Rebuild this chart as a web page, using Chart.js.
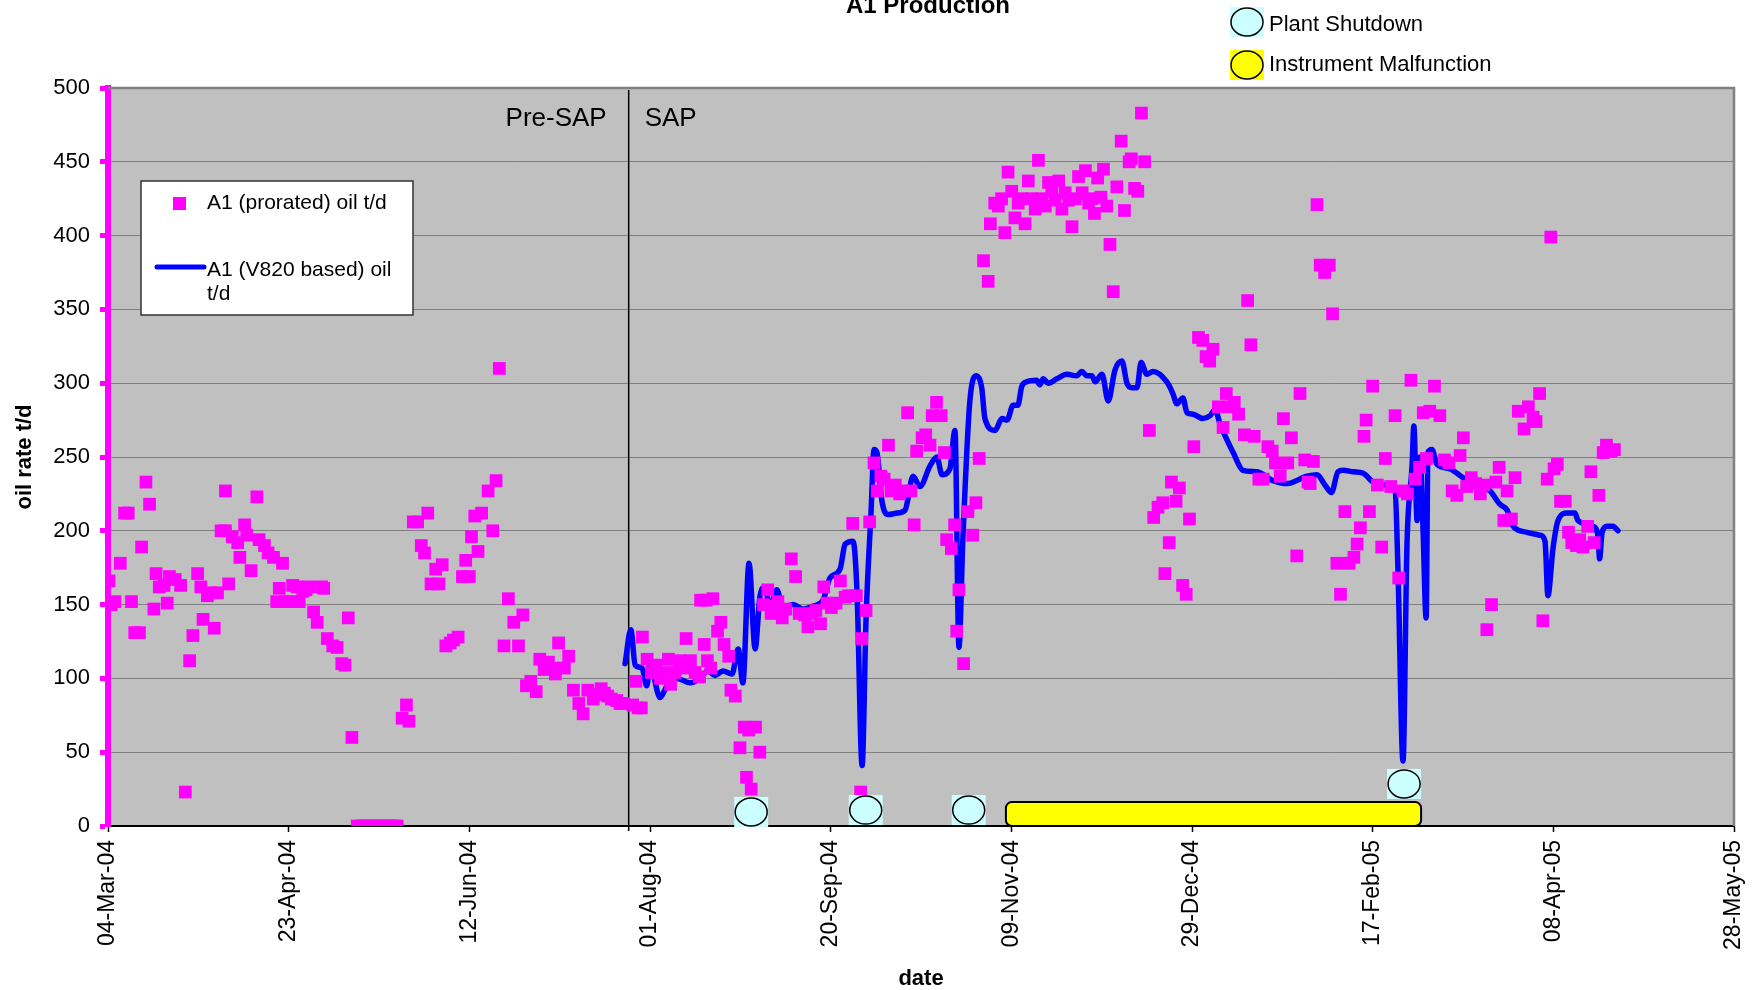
<!DOCTYPE html>
<html>
<head>
<meta charset="utf-8">
<title>A1 Production</title>
<script src="https://cdn.jsdelivr.net/npm/chart.js@4.4.1/dist/chart.umd.min.js"></script>
<style>
  body { margin: 0; background: #fff; }
  canvas { display: block; }
</style>
</head>
<body>
<canvas id="prodChart" width="1754" height="990"></canvas>
<script>
// x values are days after 04-Mar-04
var tickLabels = ["04-Mar-04", "23-Apr-04", "12-Jun-04", "01-Aug-04", "20-Sep-04",
  "09-Nov-04", "29-Dec-04", "17-Feb-05", "08-Apr-05", "28-May-05"];

var proratedDays = [
  0.3, 0.9, 1.9, 3.4, 4.6, 5.6, 6.5, 7.4, 8.7, 9.3, 10.5, 11.5, 12.7, 13.3, 14.2, 15.5, 16.4, 17, 18.6, 20.1,
  21.4, 22.6, 23.5, 24.8, 25.7, 26.3, 27.5, 28.5, 29.4, 30.3, 31.3, 32.5, 32.5, 33.4, 34.4, 35.9, 36.5, 37.8, 38.4, 39.6,
  41.2, 41.8, 43.3, 44.3, 45.8, 46.7, 48.3, 47.4, 49.2, 50.4, 51.1, 52.3, 52.9, 53.9, 54.8, 55.7, 56.9, 57.9, 59.1, 59.7,
  60.7, 62.2, 63.4, 64.7, 65.6, 66.5, 67.5, 69, 70, 71, 72, 73, 74, 75, 76, 77, 78, 79, 80,
  81.4, 82.6, 83.3, 84.5, 85.7, 86.7, 87.6, 88.5, 89.4, 90.7, 91.6, 92.5, 93.5, 94.7, 95.6, 96.9, 98.1, 99, 100, 100.6,
  101.5, 102.4, 103.4, 105.2, 106.5, 107.4, 108.3, 109.6, 110.8, 112.3, 113.6, 114.8, 115.8, 117, 118.5, 119.5, 120.7, 121.9, 122.9, 123.8,
  124.7, 126.3, 127.5, 128.8, 130.3, 131.5, 132.8, 134.3, 135.3, 136.5, 137.4, 138.3, 139.3, 140.8, 141.7, 142.7,
  145.2, 146.1, 146.7, 147.6, 147.9, 149.2, 150.4, 151.7, 152.9, 153.8, 155.1, 155.7, 156.9, 158.2, 159.4, 160, 161.2, 162.5, 163.7, 164,
  165, 165.6, 165.9, 166.8, 167.4, 168.7, 169.6, 170.5, 171.8, 172.4, 173.6, 174.9, 176.1, 176.7, 177.3, 178, 179.2, 180.4,
  181.4, 182.6, 183.5, 184.5, 185.4, 186.6, 187.6, 189.1, 190.3, 191.3, 192.8, 193.7, 194.7, 195.9, 197.2, 198.1, 199, 200.2,
  201.5, 202.7, 204, 204.9, 206.1, 207.1, 208.3, 208.6, 209.8, 210.8, 212, 212.9, 213.9, 214.8, 216, 216.7, 217.9, 219.1, 220.1,
  221.3, 222.2, 223.1, 223.8, 225.3, 226.3, 227.5, 228.1, 229.3, 230.6, 231.5, 232.1, 233.4, 234.3, 234.9, 235.5, 236.8, 238, 239.3, 240.2,
  241.1, 242.3, 243.6, 244.2, 245.4, 246.4, 247.3, 248.2, 249.1, 250.1, 251, 251.9, 252.9, 253.8, 254.7, 255.6, 256.6, 257.5, 258.4, 259.4,
  260.3, 261.2, 262.1, 263.1, 264, 264.9, 265.9, 266.8, 267.7, 268.6, 269.6, 270.5, 271.4, 272.4, 273, 273.9, 274.8, 275.5, 276.4, 277.3,
  278.2, 279.2, 280.4, 281.3, 282.6, 283.2, 284.1, 285, 286, 286.9, 288.2, 289.4, 290.6, 291.9, 292.5, 293.7, 294.3, 295.6, 296.5, 297.4,
  298.4, 299.3, 300.5, 301.8, 303, 303.9, 304.9, 305.8, 307.3, 308.6, 309.5, 310.4, 311.7, 312.9, 314.5, 315.4, 316.3, 317.2, 318.5, 319.7,
  321, 322.2, 323.1, 324.4, 325.3, 326.5, 327.5, 329, 329.9, 331.2, 332.1, 332.7, 333.6, 334.6, 335.5, 336.7, 338, 338.9, 340.1, 341.1,
  342.3, 343.5, 344.8, 345.7, 346.6, 347.6, 348.2, 349.1, 350, 351.3, 352.5, 353.5, 355, 356.2, 357.2, 358.4, 359.6, 360.6, 361.8, 363,
  364, 364.9, 365.8, 367.1, 368.6, 369.9, 371.1, 372, 373.3, 374.2, 375.1, 376, 377.3, 378.5, 379.8, 380.7, 381.6, 382.9, 384.1, 385,
  386.3, 387.2, 388.4, 389.4, 390.3, 391.9, 393.1, 394.4, 395.2, 396.2, 397.1, 398.3, 399.3, 400.2, 401.1, 402, 403.3, 404.2, 405.1, 406.4,
  407.3, 408.2, 409.5, 410.4, 411.3, 412.6, 413.8, 414.7, 416, 416.9
];
var proratedRate = [
  166, 150, 152, 178, 212, 212, 152, 131, 131, 189, 233, 218, 147, 171, 162, 163, 151, 169, 167, 163,
  23, 112, 129, 171, 162, 140, 156, 158, 134, 158, 200, 200, 227, 164, 196, 192, 182, 204, 197, 173,
  223, 194, 190, 185, 182, 152, 178, 161, 152, 152, 163, 162, 152, 159, 160, 162, 145, 138, 162, 161,
  127, 122, 121, 110, 109, 141, 60, 0, 0, 0, 0, 0, 0, 0, 0, 0, 0, 0, 0,
  73, 82, 71, 206, 206, 190, 185, 212, 164, 174, 164, 177, 122, 124, 126, 128, 169, 180, 169, 196,
  210, 186, 212, 227, 200, 234, 310, 122, 154, 138, 122, 143, 95, 98, 91, 113, 106, 111, 107, 103,
  124, 107, 115, 92, 83, 76, 92, 86, 89, 93, 90, 88, 86, 85, 83, 83,
  82, 98, 80, 80, 128, 113, 104, 109, 100, 104, 113, 96, 104, 112, 107, 127, 112, 104, 101, 153,
  123, 153, 112, 107, 154, 132, 138, 123, 115, 92, 88, 53, 67, 33, 65, 25, 67, 50,
  150, 160, 144, 149, 152, 141, 147, 181, 169, 144, 143, 135, 144, 146, 137, 162, 151, 148,
  151, 166, 155, 156, 205, 156, 23, 127, 146, 206, 246, 227, 237, 235, 258, 227, 231, 225, 227,
  280, 227, 204, 254, 263, 265, 258, 278, 287, 278, 253, 194, 188, 204, 132, 160, 110, 213, 197, 219,
  249, 383, 369, 408, 422, 420, 425, 402, 443, 430, 412, 422, 425, 408, 437, 425, 418, 451, 425, 420,
  436, 430, 424, 437, 418, 429, 424, 406, 425, 440, 429, 444, 422, 425, 415, 439, 426, 445, 420, 394,
  362, 433, 464, 417, 450, 452, 432, 430, 483, 450, 268, 209, 216, 219, 171, 192, 233, 220, 229, 163,
  157, 208, 257, 331, 329, 318, 315, 323, 284, 270, 293, 284, 287, 279, 265, 356, 326, 264, 235, 235,
  257, 254, 246, 237, 276, 246, 263, 183, 293, 248, 233, 232, 247, 421, 380, 375, 380, 347, 178, 157,
  213, 178, 182, 191, 202, 264, 275, 213, 298, 231, 189, 249, 230, 278, 168, 227, 225, 302, 235, 243,
  280, 249, 281, 298, 278, 248, 246, 227, 224, 251, 263, 230, 236, 232, 225, 231, 133, 150, 233, 243,
  207, 227, 208, 236, 281, 269, 284, 277, 274, 293, 139, 235, 399, 242, 245, 220, 220, 199, 192, 190,
  194, 189, 203, 240, 192, 224, 253, 258, 254, 255
];

var v820Days = [
  143.1, 144.7, 145.9, 147.8, 149.1, 150, 152.8, 154.7, 157.5, 161.1, 163.8, 166, 168, 170.2, 172.7, 174.4, 175.7, 177.4, 179.1, 180.4,
  181.8, 183.2, 185.1, 186.8, 189.6, 192.3, 195.1, 197.9, 199.8, 202.6, 204, 206.2, 207.3, 208.7, 209.8, 211.2, 212, 212.8, 214.2, 215.9,
  218.4, 220.6, 222.8, 224.7, 227.5, 229.4, 230.8, 233, 234.4, 235.5, 236.6, 238.6, 240.4, 241.8, 242.7, 245.5, 247.4, 248.8, 250.5, 251.8,
  252.9, 254.3, 257, 257.9, 258.8, 260.2, 262.6, 265.4, 268.1, 269.5, 270.9, 272.3, 273.2, 275.1, 276.8, 278.7, 280.6, 282, 283.4, 284.8,
  285.9, 287.5, 289.2, 293, 294.7, 295.8, 297.5, 298.6, 300.3, 303, 305, 306.4, 307.8, 311.4, 314.1, 318, 322.4, 326.3, 331.8, 334.6,
  336.8, 338.6, 340.4, 341.8, 344.6, 347.4, 350.1, 353.4, 356.2, 357, 358.4, 359.5, 360.9, 361.4, 362.3, 363.1, 363.9, 364.8, 365.3, 366.4,
  367.8, 371.4, 375, 378.9, 382.5, 385.2, 387.2, 388.6, 392.7, 396.3, 397.7, 398.5, 399.9, 401.3, 403.8, 406, 406.8, 411, 412.4, 412.8,
  413.5, 414.9, 416.5, 417.9
];
var v820Rate = [
  110, 133, 109, 107, 95, 109, 87, 95, 100, 97, 100, 105, 102, 105, 103, 120, 97, 178, 120, 155,
  162, 148, 160, 148, 150, 147, 149, 153, 168, 174, 191, 193, 158, 41, 141, 214, 255, 253, 220, 211,
  212, 214, 237, 230, 244, 250, 238, 242, 268, 121, 195, 290, 305, 297, 276, 268, 276, 275, 285, 285,
  298, 301, 302, 299, 303, 300, 303, 306, 305, 308, 305, 305, 301, 306, 288, 309, 315, 300, 297, 297,
  314, 306, 308, 301, 293, 286, 290, 280, 279, 276, 278, 282, 272, 253, 241, 240, 234, 232, 237, 238,
  231, 226, 240, 241, 240, 239, 233, 231, 227, 174, 44, 191, 244, 271, 207, 250, 204, 141, 253, 255,
  245, 242, 236, 232, 227, 218, 214, 204, 199, 197, 193, 156, 188, 207, 212, 212, 207, 203, 196, 181,
  199, 203, 203, 200
];

// events drawn along the bottom of the plot
var sapStartDay = 144.1;
var shutdownDays = [178, 209.7, 238.2, 358.7];
var shutdownLevel = [9.5, 10.8, 10.8, 28.5];
var malfunctionSpan = [248.5, 363.4];
var malfunctionTop = 16.2;

var FONT = "'Liberation Sans', Arial, sans-serif";

function drawMark(ctx, cx, cy, fill) {
  ctx.fillStyle = fill;
  ctx.fillRect(cx - 17, cy - 15, 34, 30);
  ctx.beginPath();
  ctx.ellipse(cx, cy, 16, 14, 0, 0, Math.PI * 2);
  ctx.fill();
  ctx.lineWidth = 1.5;
  ctx.strokeStyle = "#000";
  ctx.stroke();
}

var plotDecor = {
  id: "plotDecor",
  beforeDraw(chart) {
    var a = chart.chartArea, ctx = chart.ctx;
    ctx.save();
    ctx.fillStyle = "#C0C0C0";
    ctx.fillRect(a.left, a.top, a.right - a.left, a.bottom - a.top);
    ctx.restore();
  },
  beforeDatasetsDraw(chart) {
    var a = chart.chartArea, ctx = chart.ctx, x = chart.scales.x;
    ctx.save();
    ctx.strokeStyle = "#808080";
    ctx.lineWidth = 2.5;
    ctx.beginPath();
    ctx.moveTo(a.left, a.top);
    ctx.lineTo(a.right, a.top);
    ctx.lineTo(a.right, a.bottom);
    ctx.stroke();

    var sx = x.getPixelForValue(sapStartDay);
    ctx.strokeStyle = "#000";
    ctx.lineWidth = 1.5;
    ctx.beginPath();
    ctx.moveTo(sx, a.top + 2);
    ctx.lineTo(sx, a.bottom + 5);
    ctx.stroke();
    ctx.fillStyle = "#000";
    ctx.font = "26px " + FONT;
    ctx.textBaseline = "alphabetic";
    ctx.textAlign = "right";
    ctx.fillText("Pre-SAP", sx - 22, a.top + 38);
    ctx.textAlign = "left";
    ctx.fillText("SAP", sx + 16, a.top + 38);
    ctx.restore();
  },
  afterDatasetsDraw(chart) {
    var a = chart.chartArea, ctx = chart.ctx, x = chart.scales.x, y = chart.scales.y;
    ctx.save();
    var x0 = x.getPixelForValue(malfunctionSpan[0]);
    var x1 = x.getPixelForValue(malfunctionSpan[1]);
    var yt = y.getPixelForValue(malfunctionTop);
    ctx.beginPath();
    ctx.roundRect(x0, yt, x1 - x0, y.getPixelForValue(0) - yt, 6);
    ctx.fillStyle = "#FFFF00";
    ctx.fill();
    ctx.lineWidth = 2;
    ctx.strokeStyle = "#000";
    ctx.stroke();

    shutdownDays.forEach(function (d, i) {
      drawMark(ctx, x.getPixelForValue(d), y.getPixelForValue(shutdownLevel[i]), "#CCFFFF");
    });

    // legend box inside the plot
    var lx = a.left + 33, ly = a.top + 93;
    ctx.fillStyle = "#fff";
    ctx.fillRect(lx, ly, 272, 134);
    ctx.strokeStyle = "#333";
    ctx.lineWidth = 1.5;
    ctx.strokeRect(lx, ly, 272, 134);
    var sets = chart.data.datasets;
    ctx.fillStyle = sets[0].backgroundColor;
    ctx.fillRect(lx + 32, ly + 16, 13, 13);
    ctx.strokeStyle = sets[1].borderColor;
    ctx.lineWidth = 5;
    ctx.lineCap = "round";
    ctx.beginPath();
    ctx.moveTo(lx + 16, ly + 86);
    ctx.lineTo(lx + 63, ly + 86);
    ctx.stroke();
    ctx.fillStyle = "#000";
    ctx.font = "21px " + FONT;
    ctx.textAlign = "left";
    ctx.textBaseline = "middle";
    ctx.fillText(sets[0].label, lx + 66, ly + 22);
    ctx.fillText("A1 (V820 based) oil", lx + 66, ly + 89);
    ctx.fillText("t/d", lx + 66, ly + 113);
    ctx.restore();
  },
  afterDraw(chart) {
    var ctx = chart.ctx;
    ctx.save();
    ctx.fillStyle = "#000";
    ctx.font = "bold 24px " + FONT;
    ctx.textAlign = "center";
    ctx.textBaseline = "alphabetic";
    ctx.fillText("A1 Production", 928, 13);

    drawMark(ctx, 1247, 22, "#CCFFFF");
    drawMark(ctx, 1247, 65, "#FFFF00");
    ctx.fillStyle = "#000";
    ctx.font = "22px " + FONT;
    ctx.textAlign = "left";
    ctx.textBaseline = "middle";
    ctx.fillText("Plant Shutdown", 1269, 25);
    ctx.fillText("Instrument Malfunction", 1269, 65);
    ctx.restore();
  },
};

var prodChart = new Chart(document.getElementById("prodChart").getContext("2d"), {
  type: "scatter",
  data: {
    datasets: [
      {
        label: "A1 (prorated) oil t/d",
        data: proratedDays.map((d, i) => ({ x: d, y: proratedRate[i] })),
        pointStyle: "rect",
        pointRadius: 9,
        pointHoverRadius: 9,
        backgroundColor: "#FF00FF",
        borderWidth: 0,
      },
      {
        type: "line",
        label: "A1 (V820 based) oil t/d",
        data: v820Days.map((d, i) => ({ x: d, y: v820Rate[i] })),
        borderColor: "#0000FF",
        borderWidth: 5.5,
        pointRadius: 0,
        cubicInterpolationMode: "monotone",
        borderJoinStyle: "round",
        borderCapStyle: "round",
        fill: false,
      },
    ],
  },
  options: {
    responsive: false,
    animation: false,
    layout: { padding: { left: 8, top: 88, right: 20, bottom: 0 } },
    plugins: {
      legend: { display: false },
      tooltip: { enabled: false },
    },
    scales: {
      x: {
        type: "linear",
        min: 0,
        max: 450,
        afterFit: (s) => {
          s.height = 164;
          s.paddingRight = 0;
          s.paddingLeft = 0;
        },
        afterBuildTicks: (s) => { s.ticks = tickLabels.map((t, i) => ({ value: i * 50 })); },
        ticks: {
          autoSkip: false,
          minRotation: 90,
          maxRotation: 90,
          padding: 8,
          color: "#000",
          font: { family: FONT, size: 23 },
          callback: (v) => tickLabels[Math.round(v / 50)],
        },
        grid: { drawOnChartArea: false, tickLength: 6, tickColor: "#000", tickWidth: 1.5 },
        border: { color: "#000", width: 2 },
        title: {
          display: true,
          text: "date",
          color: "#000",
          font: { family: FONT, size: 22, weight: "bold", lineHeight: 1 },
          padding: 0,
        },
      },
      y: {
        min: 0,
        max: 500,
        afterFit: (s) => { s.width = 100; },
        ticks: { stepSize: 50, padding: 10, color: "#000", font: { family: FONT, size: 22 } },
        grid: { color: "#808080", lineWidth: 1, tickLength: 8, tickColor: "#FF00FF", tickWidth: 5 },
        border: { color: "#FF00FF", width: 6 },
        title: {
          display: true,
          text: "oil rate t/d",
          color: "#000",
          font: { family: FONT, size: 22, weight: "bold" },
          padding: 4,
        },
      },
    },
  },
  plugins: [plotDecor],
});
</script>
</body>
</html>
